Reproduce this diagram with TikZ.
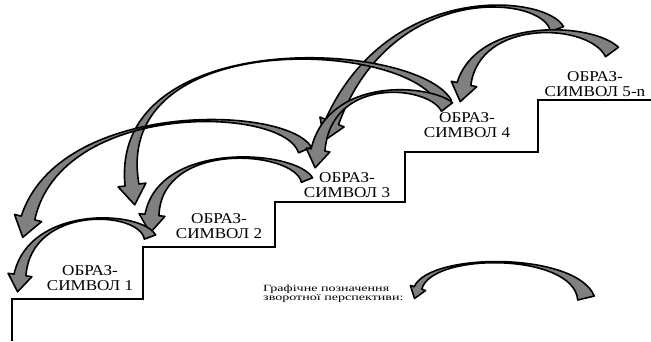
\documentclass[tikz,border=0pt]{standalone}
\usepackage{fontspec}
\setmainfont{Liberation Serif}
\newfontfamily\lblfont[FakeStretch=1.14]{Liberation Serif}
\newfontfamily\legfont[FakeStretch=1.48]{Liberation Serif}
\usetikzlibrary{calc}
\definecolor{bandgray}{RGB}{128,128,128}

% curved ribbon arrow: start, ctrl 1, ctrl 2, head base, start half width,
% end half width, head half width, head length
\newcommand{\bentarrow}[8]{%
  \coordinate (bs) at (#1);
  \coordinate (bc) at (#2);
  \coordinate (bd) at (#3);
  \coordinate (be) at (#4);
  \coordinate (so) at ($(bs)!#5!-90:(bc)$);
  \coordinate (si) at ($(bs)!#5!90:(bc)$);
  \coordinate (eo) at ($(be)!#6!90:(bd)$);
  \coordinate (ei) at ($(be)!#6!-90:(bd)$);
  \coordinate (wo) at ($(be)!#7!90:(bd)$);
  \coordinate (wi) at ($(be)!#7!-90:(bd)$);
  \coordinate (tp) at ($(be)!-#8!(bd)$);
  \filldraw[band] (so) .. controls ($(bc)+0.15*(so)-0.15*(bs)$) and ($(bd)+0.15*(eo)-0.15*(be)$) .. (eo)
    -- (wo) -- (tp) -- (wi) -- (ei)
    .. controls ($(bd)+0.15*(ei)-0.15*(be)$) and ($(bc)+0.15*(si)-0.15*(bs)$) .. (si) -- cycle;
}

\begin{document}
\begin{tikzpicture}[x=1pt,y=-1pt,
    stair/.style={line width=2pt},
    band/.style={fill=bandgray,draw=black,line width=1.6pt,line join=round},
    lbl/.style={align=center,inner sep=0pt,font=\lblfont\fontsize{15}{15}\selectfont},
    leg/.style={align=left,inner sep=0pt,font=\legfont\fontsize{9.5}{9}\selectfont}]
    \useasboundingbox (0,0) rectangle (651,341);

    % staircase
    \draw[stair] (12,341) -- (12,299) -- (143,299) -- (143,247) -- (275,247)
        -- (275,202) -- (405,202) -- (405,152) -- (538,152) -- (538,100) -- (651,100);

    % steps
    \node[lbl] (s1) at (90,278) {ОБРАЗ-\\СИМВОЛ 1};
    \node[lbl] (s2) at (219,226) {ОБРАЗ-\\СИМВОЛ 2};
    \node[lbl] (s3) at (347,185) {ОБРАЗ-\\СИМВОЛ 3};
    \node[lbl] (s4) at (467,125) {ОБРАЗ-\\СИМВОЛ 4};
    \node[lbl] (s5) at (595,84) {ОБРАЗ-\\СИМВОЛ 5-n};

    % long arrows, two steps back
    \bentarrow{557,29}{545,-5}{390,-20}{332,122}{7pt}{7pt}{13pt}{20pt}
    \bentarrow{445,103}{415,40}{110,25}{132,185}{7pt}{7pt}{14pt}{20pt}
    \bentarrow{305,150}{285,105}{60,100}{28,218}{7pt}{7pt}{14pt}{20pt}

    % short arrows, one step back
    \bentarrow{612,52}{590,22}{478,18}{464,84}{8pt}{7pt}{13pt}{18pt}
    \bentarrow{447,107}{430,85}{330,75}{318,150}{7pt}{7pt}{12pt}{18pt}
    \bentarrow{307,180}{295,150}{160,140}{152,215}{6pt}{7pt}{13pt}{18pt}
    \bentarrow{150,237}{140,210}{30,205}{20,275}{6pt}{6pt}{12pt}{17pt}

    % legend
    \node[leg,anchor=west] (legtxt) at (263,294) {Графічне позначення\\зворотної перспективи:};
    \bentarrow{586,298}{575,252}{430,252}{418,288}{8.5pt}{4pt}{8pt}{11pt}
\end{tikzpicture}
\end{document}
